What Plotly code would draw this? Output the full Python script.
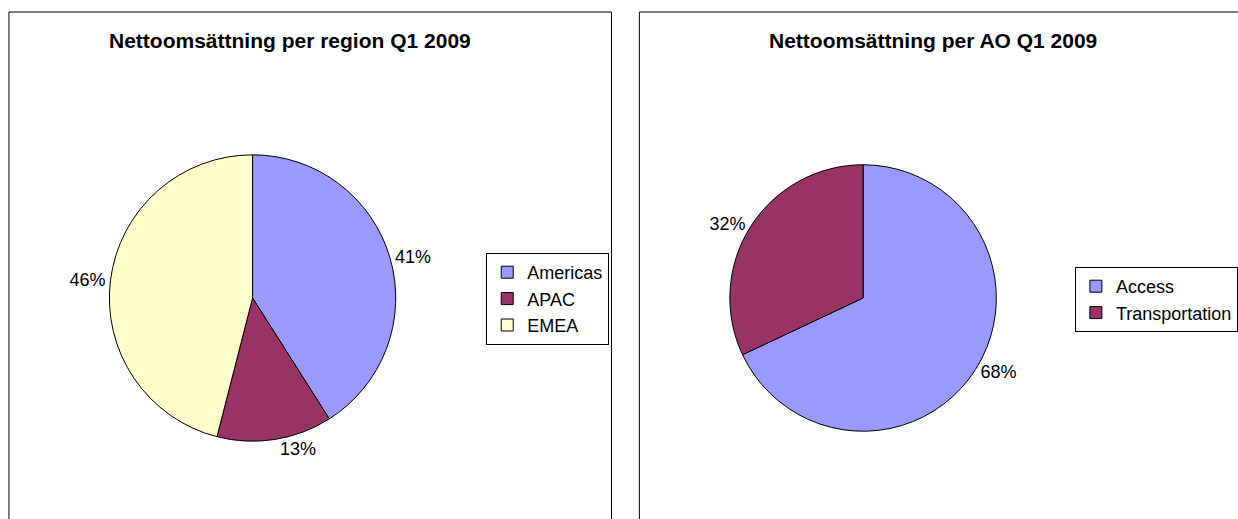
import plotly.graph_objects as go

# Data
region_labels = ["Americas", "APAC", "EMEA"]
region_values = [41, 13, 46]
ao_labels = ["Access", "Transportation"]
ao_values = [68, 32]
region_colors = ["#9999FF", "#993366", "#FFFFCC"]
ao_colors = ["#9999FF", "#993366"]
title_left = "Nettoomsättning per region Q1 2009"
title_right = "Nettoomsättning per AO Q1 2009"

W, H = 1238, 519
FONT = "Liberation Sans, Arial, sans-serif"


def px_x(x):
    return x / W


def px_y(y):
    return 1 - y / H


def dom(cx, cy, r):
    return dict(x=[px_x(cx - r), px_x(cx + r)], y=[px_y(cy + r), px_y(cy - r)])


fig = go.Figure()
fig.add_trace(go.Pie(
    labels=region_labels, values=region_values, sort=False, direction="clockwise",
    rotation=0, marker=dict(colors=region_colors, line=dict(color="black", width=1)),
    textinfo="percent", texttemplate="%{percent:.0%}", textposition="outside",
    textfont=dict(family=FONT, size=18, color="black"),
    domain=dom(254, 298, 144), legend="legend", hoverinfo="label+percent",
))
fig.add_trace(go.Pie(
    labels=ao_labels, values=ao_values, sort=False, direction="clockwise",
    rotation=0, marker=dict(colors=ao_colors, line=dict(color="black", width=1)),
    textinfo="percent", texttemplate="%{percent:.0%}", textposition="outside",
    textfont=dict(family=FONT, size=18, color="black"),
    domain=dom(868, 298, 134), legend="legend2", hoverinfo="label+percent",
))

legend_common = dict(
    bgcolor="white", bordercolor="black", borderwidth=1,
    font=dict(family=FONT, size=18, color="black"),
    xanchor="left", yanchor="top", itemclick=False, itemdoubleclick=False,
)
fig.update_layout(
    width=W, height=H, margin=dict(l=0, r=0, t=0, b=0),
    paper_bgcolor="white", plot_bgcolor="white",
    showlegend=True,
    legend=dict(x=px_x(489), y=px_y(253), **legend_common),
    legend2=dict(x=px_x(1081), y=px_y(267), **legend_common),
    annotations=[
        dict(text="<b>" + title_left + "</b>", x=px_x(292), y=px_y(40), xref="paper", yref="paper",
             showarrow=False, xanchor="center", yanchor="middle",
             font=dict(family=FONT, size=21, color="black")),
        dict(text="<b>" + title_right + "</b>", x=px_x(938), y=px_y(40), xref="paper", yref="paper",
             showarrow=False, xanchor="center", yanchor="middle",
             font=dict(family=FONT, size=21, color="black")),
    ],
    shapes=[
        dict(type="rect", xref="paper", yref="paper", x0=px_x(9), x1=px_x(615),
             y0=px_y(560), y1=px_y(12), line=dict(color="black", width=1)),
        dict(type="rect", xref="paper", yref="paper", x0=px_x(643), x1=px_x(1260),
             y0=px_y(560), y1=px_y(12), line=dict(color="black", width=1)),
    ],
)

fig.write_html(
    "out.html",
    config={"displayModeBar": False},
    post_script="document.body.style.margin='0';document.body.style.overflow='hidden';",
)
